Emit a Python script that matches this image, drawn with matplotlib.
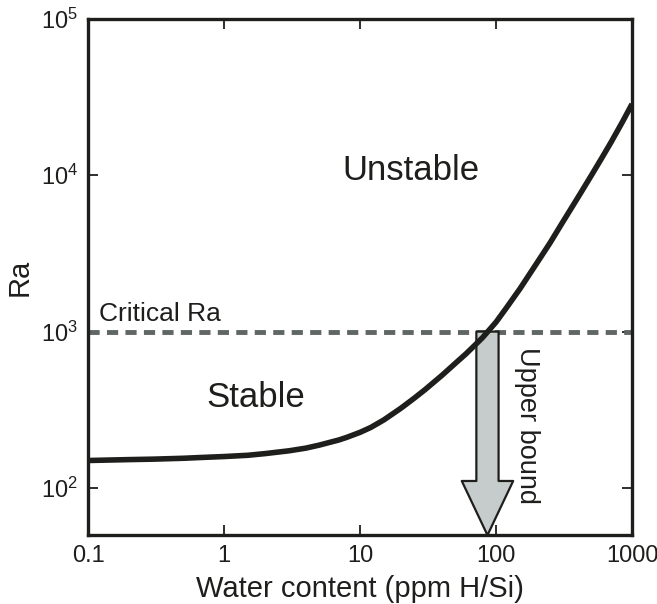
import matplotlib
matplotlib.use("Agg")
import matplotlib.pyplot as plt

plt.rcParams['font.family'] = ['Liberation Sans', 'DejaVu Sans']
plt.rcParams['mathtext.fontset'] = 'custom'
plt.rcParams['mathtext.rm'] = 'Liberation Sans'

# curve (water content vs Ra)
water = [0.1, 0.2, 0.3, 0.5, 0.7, 1, 1.5, 2, 3, 4, 5, 6, 7, 8, 10, 12, 15,
         20, 25, 30, 40, 50, 60, 70, 80, 100, 120, 150, 200, 250, 300, 400,
         500, 600, 700, 850, 1000]
ra = [150, 152, 153, 155, 157, 159, 162, 166, 173, 180, 188, 196, 203, 211,
      227, 244, 273, 324, 375, 425, 525, 625, 720, 820, 920, 1150, 1430,
      1880, 2750, 3700, 4800, 7200, 9900, 12900, 16200, 21900, 28500]

critical_ra = 1000
upper_bound_x = 86.5
x_ticks = [0.1, 1, 10, 100, 1000]
x_ticklabels = ['0.1', '1', '10', '100', '1000']
y_ticks = [1e2, 1e3, 1e4, 1e5]

dark = '#1e1f1c'

fig = plt.figure(figsize=(6.57, 6.04), dpi=100)
ax = fig.add_axes([0.134, 0.114, 0.828, 0.855])
ax.set_xscale('log')
ax.set_yscale('log')
ax.set_xlim(0.1, 1000)
ax.set_ylim(50, 1e5)

ax.axhline(critical_ra, color='#5f6664', lw=3.5, dashes=(2.3, 1.5), zorder=2)
ax.plot(water, ra, color=dark, lw=4, solid_capstyle='butt',
        solid_joinstyle='round', zorder=4)

ax.annotate('', xy=(upper_bound_x, 50), xytext=(upper_bound_x, critical_ra),
            arrowprops=dict(arrowstyle='simple,head_length=3.9,head_width=3.7,tail_width=1.6',
                            mutation_scale=10, fc='#c6cbcb', ec=dark, lw=1.6,
                            shrinkA=0, shrinkB=0),
            zorder=3)

# text positions in axes fractions
ax.text(0.594, 0.707, 'Unstable', fontsize=25, color=dark, ha='center',
        va='center', transform=ax.transAxes)
ax.text(0.309, 0.267, 'Stable', fontsize=25, color=dark, ha='center',
        va='center', transform=ax.transAxes)
ax.text(0.02, critical_ra * 1.08, 'Critical Ra', fontsize=19, color=dark,
        ha='left', va='bottom', transform=ax.get_yaxis_transform())
ax.text(0.807, 0.213, 'Upper bound', fontsize=19.5, color=dark, rotation=-90,
        ha='center', va='center', transform=ax.transAxes)

ax.set_xticks(x_ticks)
ax.set_xticklabels(x_ticklabels)
ax.set_yticks(y_ticks)
ax.minorticks_off()
ax.tick_params(direction='in', length=7, width=1.3, labelsize=17,
               colors=dark, top=True, right=True, pad=7)

for s in ax.spines.values():
    s.set_linewidth(2.4)
    s.set_color(dark)

ax.set_xlabel('Water content (ppm H/Si)', fontsize=21, color=dark, labelpad=6)
ax.set_ylabel('Ra', fontsize=21, color=dark, labelpad=5)

fig.savefig('out.png', dpi=100)
